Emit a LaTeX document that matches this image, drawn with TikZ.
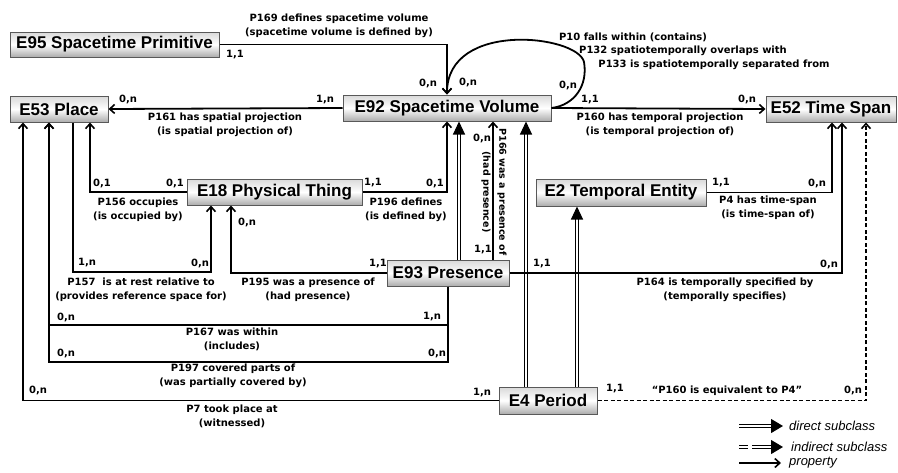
\documentclass[tikz,border=0pt]{standalone}
\usepackage{fontspec}
\usetikzlibrary{arrows.meta,calc}
\newfontfamily\nodefont{Liberation Sans}
\newfontfamily\lblfont{DejaVu Sans}
\newfontfamily\legfont{Liberation Sans}
\tikzset{
  cls/.style={draw=black!65, line width=1pt, top color=gray!30, bottom color=gray!65, middle color=white,
    inner sep=0pt, font=\nodefont\bfseries\fontsize{17}{20}\selectfont},
  lbl/.style={font=\lblfont\bfseries\fontsize{10}{14}\selectfont, align=center, inner sep=0pt},
  leg/.style={font=\legfont\itshape\fontsize{13}{15}\selectfont, inner sep=0pt, anchor=west},
  prop/.style={line width=1.8pt, -{Straight Barb[length=5pt,width=9pt,line width=1.6pt]}},
  subcl/.style={double, line width=1.1pt, double distance=2.4pt, -{Triangle[length=13pt,width=12pt]}},
}
\begin{document}
\begin{tikzpicture}[x=1pt,y=-1pt]
\useasboundingbox (0,0) rectangle (898,472);

% classes
\node[cls, minimum width=209pt, minimum height=25pt] (E95) at (114.5,44.5) {E95 Spacetime Primitive};
\node[cls, minimum width=98pt, minimum height=26pt] (E53) at (59,109) {E53 Place};
\node[cls, minimum width=208pt, minimum height=26pt] (E92) at (447,108) {E92 Spacetime Volume};
\node[cls, minimum width=130pt, minimum height=26pt] (E52) at (831,109) {E52 Time Span};
\node[cls, minimum width=175pt, minimum height=26pt] (E18) at (274.5,192) {E18 Physical Thing};
\node[cls, minimum width=170pt, minimum height=27pt] (E2) at (621,192.5) {E2 Temporal Entity};
\node[cls, minimum width=122pt, minimum height=26pt] (E93) at (448,273) {E93 Presence};
\node[cls, minimum width=98pt, minimum height=27pt] (E4) at (548,400.5) {E4 Period};

% helper coordinates
\coordinate (k157) at (140,272);
\coordinate (k167) at (250,325);
\coordinate (k197) at (250,362);
\coordinate (kloop) at (584,62);

% subclass links
\draw[subcl] ([xshift=11pt]E93.north) -- ([xshift=11pt]E93.north |- E92.south);
\draw[subcl] ([xshift=-22pt]E4.north) -- ([xshift=-22pt]E4.north |- E92.south);
\draw[subcl] ([xshift=29pt]E4.north) -- ([xshift=29pt]E4.north |- E2.south);

% properties
\draw[prop] (E95.east) -| (E92.north);
\draw[prop] (E92.east) .. controls (575,105) and (588,85) .. (kloop) .. controls (578,35) and (447,20) .. (E92.north);
\draw[prop] (E92.west) -- (E53.east);
\draw[prop] (E92.east) -- (E52.west);
\draw[prop] (E18.west) -| ([xshift=31pt]E53.south);
\draw[prop] ([xshift=14pt]E53.south) |- (k157) -| ([xshift=-63.5pt]E18.south);
\draw[prop] (E93.west) -| ([xshift=-43.5pt]E18.south);
\draw[prop] (E18.east) -| (E92.south);
\draw[prop] ([xshift=45pt]E93.north) -- ([xshift=45pt]E93.north |- E92.south);
\draw[prop] (E2.east) -| ([xshift=1pt]E52.south);
\draw[prop] (E93.east) -| ([xshift=11pt]E52.south);
\draw[prop, dash pattern=on 4pt off 2.5pt] (E4.east) -| ([xshift=35pt]E52.south);
\draw[prop] (E93.south) |- (k167) -| ([xshift=-10pt]E53.south);
\draw[prop] (E93.south) |- (k197) -| ([xshift=-10pt]E53.south);
\draw[prop] (E4.west) -| ([xshift=-36pt]E53.south);

% property labels
\node[lbl] (t169) at (339,26) {P169 defines spacetime volume\\(spacetime volume is defined by)};
\node[lbl] (t10) at (633,37) {P10 falls within (contains)};
\node[lbl] (t132) at (683,51) {P132 spatiotemporally overlaps with};
\node[lbl] (t133) at (714,65) {P133 is spatiotemporally separated from};
\node[lbl] (t161) at (225,125) {P161 has spatial projection\\(is spatial projection of)};
\node[lbl] (t160) at (660,125) {P160 has temporal projection\\(is temporal projection of)};
\node[lbl] (t156) at (138,209.5) {P156 occupies\\(is occupied by)};
\node[lbl] (t196) at (406,209.5) {P196 defines\\(is defined by)};
\node[lbl] (t157) at (141,289.5) {P157\ \ is at rest relative to\\(provides reference space for)};
\node[lbl] (t195) at (308,289.5) {P195 was a presence of\\(had presence)};
\node[lbl] (t4) at (768,207.5) {P4 has time-span\\(is time-span of)};
\node[lbl] (t164) at (725,290) {P164 is temporally specified by\\(temporally specifies)};
\node[lbl] (t167) at (232,339) {P167 was within\\(includes)};
\node[lbl] (t197) at (233,376) {P197 covered parts of\\(was partially covered by)};
\node[lbl] (t7) at (232,416) {P7 took place at\\(witnessed)};
\node[lbl] (teq) at (727,391) {“P160 is equivalent to P4”};
\node[lbl, rotate=-90, font=\lblfont\bfseries\fontsize{9.5}{16}\selectfont] (t166) at (494,192) {P166 was a presence of\\(had presence)};

% cardinalities
\node[lbl] (c1) at (235,55) {1,1};
\node[lbl] (c2) at (428,83) {0,n};
\node[lbl] (c3) at (468,82) {0,n};
\node[lbl] (c4) at (568,85) {0,n};
\node[lbl] (c5) at (590,100) {1,1};
\node[lbl] (c6) at (747,99) {0,n};
\node[lbl] (c7) at (325,100) {1,n};
\node[lbl] (c8) at (128,99) {0,n};
\node[lbl] (c9) at (102,183) {0,1};
\node[lbl] (c10) at (175,183) {0,1};
\node[lbl] (c11) at (373,183) {1,1};
\node[lbl] (c12) at (435,183) {0,1};
\node[lbl] (c13) at (247,222) {0,n};
\node[lbl] (c14) at (87,263) {1,n};
\node[lbl] (c15) at (200,263) {0,n};
\node[lbl] (c16) at (378,264) {1,1};
\node[lbl] (c17) at (721,183) {1,1};
\node[lbl] (c18) at (817,183) {0,n};
\node[lbl] (c19) at (483,250) {1,1};
\node[lbl] (c20) at (482,138) {0,n};
\node[lbl] (c21) at (542,264) {1,1};
\node[lbl] (c22) at (829,264) {0,n};
\node[lbl] (c23) at (66,317) {0,n};
\node[lbl] (c24) at (432,317) {1,n};
\node[lbl] (c25) at (66,353) {0,n};
\node[lbl] (c26) at (437,353) {0,n};
\node[lbl] (c27) at (38,390) {0,n};
\node[lbl] (c28) at (482,393) {1,n};
\node[lbl] (c29) at (615,389) {1,1};
\node[lbl] (c30) at (853,390) {0,n};

% legend
\coordinate (g1a) at (739,426); \coordinate (g1b) at (783,426);
\coordinate (g2a) at (739,447); \coordinate (g2b) at (783,447);
\coordinate (g3a) at (739,463); \coordinate (g3b) at (781,463);
\draw[subcl, -{Triangle[length=12pt,width=14pt]}] (g1a) -- (g1b);
\draw[subcl, dash pattern=on 9pt off 4pt on 40pt off 1pt, -{Triangle[length=12pt,width=14pt]}] (g2a) -- (g2b);
\draw[prop, line width=1.2pt] (g3a) -- (g3b);
\node[leg] (l1) at (789,426) {direct subclass};
\node[leg] (l2) at (791,447) {indirect subclass};
\node[leg] (l3) at (789,463) {property};
\end{tikzpicture}
\end{document}
